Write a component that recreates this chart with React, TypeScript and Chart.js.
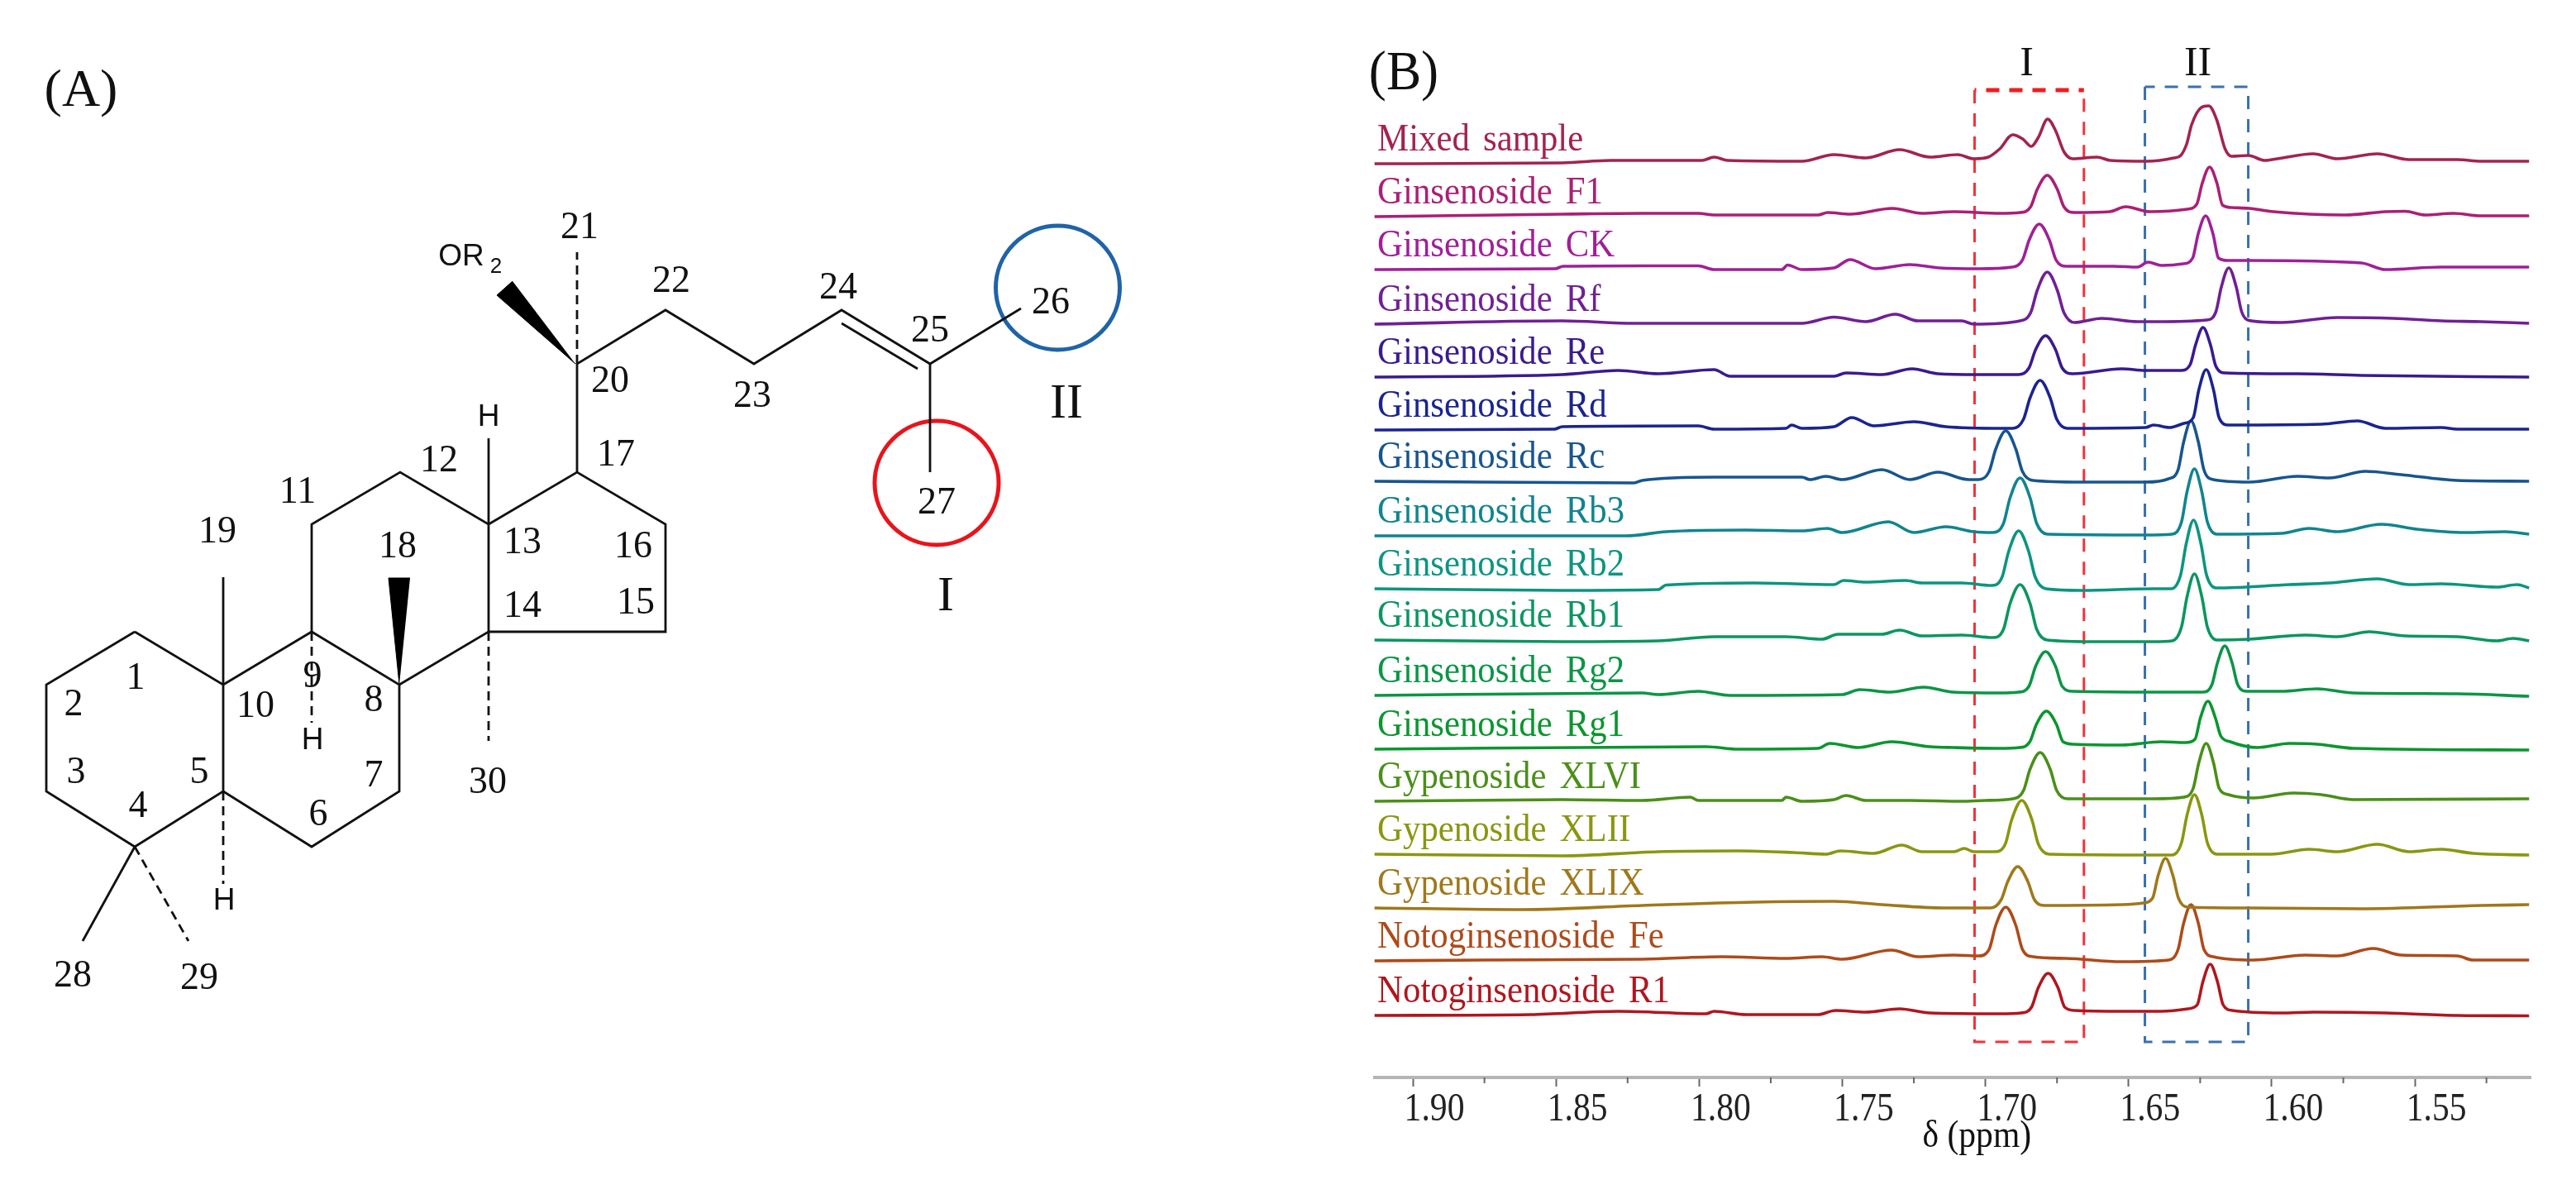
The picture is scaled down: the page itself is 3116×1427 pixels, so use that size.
import React, { useEffect, useRef } from "react";
import { Chart, registerables } from "chart.js";

Chart.register(...registerables);

// ---------- Panel B: stacked 1H NMR spectra ----------
const seriesNames = ["Mixed sample", "Ginsenoside F1", "Ginsenoside CK", "Ginsenoside Rf", "Ginsenoside Re", "Ginsenoside Rd", "Ginsenoside Rc", "Ginsenoside Rb3", "Ginsenoside Rb2", "Ginsenoside Rb1", "Ginsenoside Rg2", "Ginsenoside Rg1", "Gypenoside XLVI", "Gypenoside XLII", "Gypenoside XLIX", "Notoginsenoside Fe", "Notoginsenoside R1"];
const seriesColors = ["#a3234f", "#ab1f75", "#a01f98", "#701f96", "#3a1a90", "#1a2490", "#17558f", "#0f858f", "#0b9580", "#0a9660", "#0a9645", "#0a962e", "#4a8f18", "#8a9610", "#a0781a", "#ae4a1a", "#b0161f"];
const offsets = [1109, 1043, 978, 912, 848, 784, 720, 656, 591, 529, 463, 397, 336, 269, 205, 142, 75];

const mixed = [[1.9134,-4],[1.8478,-3],[1.8310,0],[1.8087,0],[1.7990,0],[1.7948,4],[1.7900,0],[1.7641,-1],[1.7529,7],[1.7418,3],[1.7300,13],[1.7194,4],[1.7097,7],[1.7041,2],[1.6990,4],[1.6950,14],[1.6905,31],[1.6870,26],[1.6840,17],[1.6815,28],[1.6783,50],[1.6755,36],[1.6725,10],[1.6695,2],[1.6610,4],[1.6564,0],[1.6437,-1],[1.6342,3],[1.6318,6],[1.6297,20],[1.6280,43],[1.6246,64],[1.6220,66],[1.6192,49],[1.6163,14],[1.6140,5],[1.6082,6],[1.6024,0],[1.5980,2],[1.5855,8],[1.5771,2],[1.5631,8],[1.5520,1],[1.5352,1],[1.5269,-1],[1.5101,-1]];
const f1 = [[1.9134,-2],[1.8478,1],[1.8199,2],[1.8003,2],[1.7948,0],[1.7585,0],[1.7551,3],[1.7473,1],[1.7325,8],[1.7222,2],[1.7110,4],[1.6950,2],[1.6879,3],[1.6842,10],[1.6819,31],[1.6784,48],[1.6749,31],[1.6726,10],[1.6689,3],[1.6566,4],[1.6510,10],[1.6427,4],[1.6295,7],[1.6262,13],[1.6243,38],[1.6217,58],[1.6191,38],[1.6172,12],[1.6139,9],[1.6078,8],[1.5994,4],[1.5743,0],[1.5603,4],[1.5534,4.5],[1.5464,0],[1.5366,2],[1.5269,-1],[1.5101,-1]];
const ck = [[1.9134,-1],[1.8503,0],[1.8475,3],[1.8199,3.5],[1.8003,3.5],[1.7948,-1],[1.7711,-1],[1.7691,4.5],[1.7641,-1],[1.7529,1],[1.7473,11],[1.7384,0],[1.7264,5],[1.7161,1],[1.7022,0],[1.6907,2],[1.6870,11],[1.6847,35],[1.6812,54],[1.6777,35],[1.6754,11],[1.6717,3],[1.6552,3],[1.6469,2],[1.6432,8],[1.6385,4],[1.6309,6],[1.6276,13],[1.6257,42],[1.6231,64],[1.6205,42],[1.6186,13],[1.6153,10],[1.6078,10],[1.5687,7],[1.5603,-1],[1.5408,2],[1.5101,2]];
const rf = [[1.9134,-1],[1.8478,3],[1.8227,0],[1.7641,0],[1.7529,7.5],[1.7418,2],[1.7315,11],[1.7237,3],[1.7083,3],[1.7041,-1],[1.6879,3],[1.6842,13],[1.6819,40],[1.6784,62],[1.6749,40],[1.6726,13],[1.6689,1],[1.6594,6],[1.6469,2],[1.6400,2],[1.6228,4],[1.6195,14],[1.6176,44],[1.6150,67],[1.6124,44],[1.6105,14],[1.6072,3],[1.5966,1],[1.5771,7],[1.5575,6],[1.5408,3],[1.5269,2],[1.5101,0]];
const re = [[1.9134,-1],[1.8478,2],[1.8283,7],[1.8143,3],[1.7948,8],[1.7892,0],[1.7529,0],[1.7487,4],[1.7362,2],[1.7256,9],[1.7166,3],[1.7027,2],[1.6885,2],[1.6848,10],[1.6825,32],[1.6790,49],[1.6755,32],[1.6732,10],[1.6695,3],[1.6524,9],[1.6441,7],[1.6318,7],[1.6285,14],[1.6266,38],[1.6240,59],[1.6214,38],[1.6195,12],[1.6162,4],[1.5910,3],[1.5687,1],[1.5101,-1]];
const rd = [[1.9134,-1],[1.8506,0],[1.8478,3],[1.8003,4],[1.7948,0],[1.7697,1],[1.7677,5],[1.7641,1],[1.7529,3],[1.7467,14],[1.7389,4],[1.7250,9],[1.7139,3],[1.6943,1],[1.6904,1],[1.6867,12],[1.6844,38],[1.6809,59],[1.6774,38],[1.6751,12],[1.6714,1],[1.6441,2],[1.6413,5],[1.6357,2],[1.6307,7],[1.6274,14],[1.6255,47],[1.6229,72],[1.6203,47],[1.6184,14],[1.6151,5],[1.5827,6],[1.5701,10],[1.5603,1],[1.5408,2],[1.5352,0],[1.5101,0]];
const rc = [[1.9134,1],[1.8757,0],[1.8227,-1],[1.8199,2],[1.7948,6],[1.7641,6],[1.7613,3],[1.7557,7],[1.7501,3],[1.7362,15],[1.7264,3],[1.7166,12],[1.7059,3],[1.7024,3],[1.6987,13],[1.6964,40],[1.6929,62],[1.6894,40],[1.6871,13],[1.6834,2],[1.6664,0],[1.6440,0],[1.6360,4],[1.6327,15],[1.6308,48],[1.6282,74],[1.6256,48],[1.6237,15],[1.6204,3],[1.6078,0],[1.5910,7],[1.5799,5],[1.5673,13],[1.5548,9],[1.5352,2],[1.5101,1]];
const rb3 = [[1.9134,-1],[1.8255,-1],[1.8115,4],[1.7836,6],[1.7641,5],[1.7552,8],[1.7501,3],[1.7339,16],[1.7250,3],[1.7138,10],[1.7041,4],[1.6974,3],[1.6937,14],[1.6914,45],[1.6879,69],[1.6844,45],[1.6821,14],[1.6784,1],[1.6440,0],[1.6348,1],[1.6315,16],[1.6296,52],[1.6270,80],[1.6244,52],[1.6225,16],[1.6192,1],[1.5966,2],[1.5869,8],[1.5771,4],[1.5617,13],[1.5492,7],[1.5325,3],[1.5185,4],[1.5101,1]];
const rb2 = [[1.9134,0],[1.8478,-2],[1.8143,-1],[1.8115,4.5],[1.7808,7],[1.7529,5],[1.7496,10],[1.7418,8],[1.7278,10],[1.7222,7],[1.7083,7],[1.6979,4],[1.6942,14],[1.6919,45],[1.6884,70],[1.6849,45],[1.6826,14],[1.6789,0],[1.6664,-2],[1.6413,0],[1.6351,0],[1.6318,17],[1.6299,54],[1.6273,83],[1.6247,54],[1.6228,17],[1.6195,1],[1.5938,5],[1.5799,7],[1.5631,12],[1.5520,5],[1.5408,6],[1.5213,2],[1.5143,5],[1.5101,1]];
const rb1 = [[1.9134,0],[1.8478,-2],[1.8143,-1],[1.7948,4],[1.7697,4],[1.7571,1],[1.7515,7],[1.7362,7],[1.7300,12],[1.7222,5],[1.7083,6],[1.6974,3],[1.6937,13],[1.6914,44],[1.6879,67],[1.6844,44],[1.6821,13],[1.6784,0],[1.6624,-2],[1.6413,-2],[1.6348,-1],[1.6315,16],[1.6296,52],[1.6270,80],[1.6244,52],[1.6225,16],[1.6192,0],[1.6078,1],[1.5883,6],[1.5771,4],[1.5659,10],[1.5534,5],[1.5352,4],[1.5213,-1],[1.5157,2],[1.5101,-1]];
const rg2 = [[1.9134,-1],[1.8199,2],[1.8143,0],[1.8003,4],[1.7892,-1],[1.7501,0],[1.7439,6],[1.7333,3],[1.7216,9],[1.7113,3],[1.6950,2],[1.6885,3],[1.6848,10],[1.6825,34],[1.6790,52],[1.6755,34],[1.6732,10],[1.6695,4],[1.6400,3],[1.6242,3],[1.6209,12],[1.6190,38],[1.6164,59],[1.6138,38],[1.6119,12],[1.6086,4],[1.5966,4],[1.5841,7],[1.5715,2],[1.5352,1],[1.5101,-2]];
const rg1 = [[1.9134,0],[1.7976,3],[1.7864,0],[1.7585,1],[1.7543,7],[1.7445,2],[1.7328,9],[1.7194,3],[1.7110,2],[1.6950,1],[1.6882,2],[1.6845,9],[1.6822,30],[1.6787,46],[1.6752,30],[1.6729,9],[1.6692,6],[1.6524,5],[1.6385,9],[1.6301,8],[1.6268,12],[1.6249,38],[1.6223,58],[1.6197,38],[1.6178,16],[1.6145,9],[1.6050,2],[1.5938,7],[1.5841,6],[1.5715,1],[1.5101,-1]];
const xlvi = [[1.9134,-2],[1.8478,0],[1.8199,-1],[1.8031,3],[1.8003,-1],[1.7711,-1],[1.7697,3],[1.7641,-2],[1.7529,0],[1.7487,5],[1.7418,-1],[1.7264,-1],[1.7083,-2],[1.7000,-1],[1.6904,1],[1.6867,11],[1.6844,37],[1.6809,57],[1.6774,37],[1.6751,11],[1.6714,1],[1.6413,1],[1.6307,3],[1.6274,14],[1.6255,44],[1.6229,68],[1.6203,44],[1.6184,14],[1.6151,6],[1.6064,2],[1.5924,8],[1.5827,6],[1.5715,0],[1.5101,1]];
const xlii = [[1.9134,1],[1.8478,-1],[1.8143,4],[1.7864,5],[1.7669,3],[1.7557,1],[1.7507,5],[1.7390,2],[1.7292,12],[1.7222,4],[1.7110,4],[1.7074,8],[1.7041,4],[1.6968,4],[1.6931,13],[1.6908,43],[1.6873,66],[1.6838,43],[1.6815,13],[1.6778,1],[1.6413,0],[1.6348,0],[1.6315,15],[1.6296,48],[1.6270,73],[1.6244,48],[1.6225,15],[1.6192,1],[1.6000,1],[1.5869,7],[1.5771,4],[1.5631,13],[1.5520,4],[1.5408,7],[1.5297,2],[1.5101,0]];
const xlix = [[1.9134,0],[1.8617,-2],[1.8199,3],[1.7808,7],[1.7529,8],[1.7362,4],[1.7144,0],[1.6982,0],[1.6945,10],[1.6922,32],[1.6887,50],[1.6852,32],[1.6829,10],[1.6792,3],[1.6524,4],[1.6449,6],[1.6416,12],[1.6397,39],[1.6371,60],[1.6345,39],[1.6326,12],[1.6293,1],[1.6078,0],[1.5687,-1],[1.5269,3],[1.5101,4]];
const fe = [[1.9134,-1],[1.8757,0],[1.8199,1],[1.7920,4],[1.7697,2],[1.7571,4],[1.7501,1],[1.7328,12],[1.7236,4],[1.7110,6],[1.7024,5],[1.6987,13],[1.6964,42],[1.6929,64],[1.6894,42],[1.6871,13],[1.6834,4],[1.6719,2],[1.6524,-2],[1.6360,0],[1.6327,13],[1.6308,44],[1.6282,67],[1.6256,44],[1.6237,13],[1.6204,4],[1.6064,0],[1.5883,6],[1.5771,5],[1.5645,14],[1.5548,6],[1.5352,5],[1.5297,0],[1.5101,0]];
const r1 = [[1.9134,0],[1.8590,1],[1.8283,5],[1.7976,2],[1.7948,5],[1.7836,1],[1.7585,1],[1.7524,6],[1.7418,4],[1.7300,8],[1.7194,3],[1.6950,2],[1.6876,3],[1.6839,10],[1.6816,33],[1.6781,51],[1.6746,33],[1.6723,10],[1.6686,6],[1.6524,5],[1.6385,5],[1.6293,8],[1.6260,13],[1.6241,40],[1.6215,62],[1.6189,40],[1.6170,13],[1.6137,6],[1.5966,3],[1.5855,4],[1.5603,3],[1.5352,0],[1.5101,-0.5]];
const spectra = [mixed, f1, ck, rf, re, rd, rc, rb3, rb2, rb1, rg2, rg1, xlvi, xlii, xlix, fe, r1];

const minorTicks = [1.875, 1.825, 1.775, 1.725, 1.675, 1.625, 1.575, 1.525];
const boxI = [[1.7038,1194],[1.7038,43],[1.6656,43],[1.6656,1194]];
const boxItop = [[1.7038,1194],[1.6656,1194]];
const boxII = [[1.6443,1198],[1.6443,43],[1.6082,43],[1.6082,1198],[1.6443,1198]];

// ---------- Panel A: triterpene skeleton ----------
const solidBonds = [
  [[163,764],[56,828],[56,957],[163,1024],[270,957],[270,828],[163,764]],
  [[270,828],[377,764],[483,828],[483,957],[377,1024],[270,957]],
  [[377,764],[377,634],[484,571],[591,634],[591,764],[483,828]],
  [[591,634],[698,571],[805,634],[805,764],[591,764]],
  [[698,571],[698,440],[805,375],[912,440],[1018,375],[1125,440],[1235,373]],
  [[1125,440],[1125,571]],
  [[1018,391],[1110,446]],
  [[270,828],[270,698]],
  [[591,634],[591,530]],
  [[163,1024],[100,1138]],
];
const dashedBonds = [
  [[163,1024],[228,1138]],
  [[377,764],[377,874]],
  [[270,957],[270,1069]],
  [[591,764],[591,896]],
  [[698,440],[698,305]],
];
const wedges = [
  [[483,828],[470,699],[496,699]],
  [[696,440],[601,357],[620,340]],
];
const circleI = [[1133,584]];
const circleII = [[1279.5,348]];
const numberLabels = [["1",164,821],["2",89,853],["3",92,935],["4",167,976],["5",241,935],["6",385,986],["7",452,939],["8",452,848],["9",378,819],["10",309,855],["11",360,596],["12",531,558],["13",632,657],["14",632,734],["15",769,730],["16",766,662],["17",745,551],["18",481,662],["19",263,644],["20",738,462],["21",701,276],["22",812,341],["23",910,480],["24",1014,349],["25",1125,401],["26",1271,367],["27",1133,609],["28",88,1181],["29",241,1184],["30",590,947]];
const hLabels = [["H",271,1090],["H",378,896],["H",591,505],["OR",558,311]];
const subLabels = [["2",600,323]];
const romanLabels = [["I",1144,722],["II",1290,489]];
const panelLabelA = ["(A)", 98, 111];

const xy = (pts: number[][]) => pts.map(([x, y]) => ({ x, y }));

const structureText = {
  id: "structureText",
  afterDatasetsDraw(chart: any) {
    const { ctx, scales } = chart;
    const put = (items: any[], font: string) => {
      ctx.font = font;
      for (const [t, x, y] of items) ctx.fillText(t, scales.x.getPixelForValue(x), scales.y.getPixelForValue(y));
    };
    ctx.save();
    ctx.fillStyle = "#111";
    ctx.textAlign = "center";
    ctx.textBaseline = "middle";
    put(numberLabels, "46px 'Liberation Serif'");
    put(hLabels, "37px 'Liberation Sans'");
    put(subLabels, "26px 'Liberation Sans'");
    put(romanLabels, "60px 'Liberation Serif'");
    put([panelLabelA], "64px 'Liberation Serif'");
    ctx.restore();
  },
};

const squeezed = (ctx: any, text: string, x: number, y: number, sx: number) => {
  ctx.save();
  ctx.translate(x, y);
  ctx.scale(sx, 1);
  ctx.fillText(text, 0, 0);
  ctx.restore();
};

const spectraText = {
  id: "spectraText",
  afterDatasetsDraw(chart: any) {
    const { ctx, scales } = chart;
    const x = scales.x;
    ctx.save();
    ctx.textBaseline = "alphabetic";
    ctx.textAlign = "left";
    ctx.font = "46.5px 'Liberation Serif'";
    (ctx as any).wordSpacing = "6px";
    seriesNames.forEach((name, i) => {
      ctx.fillStyle = seriesColors[i];
      squeezed(ctx, name, x.getPixelForValue(1.9124), scales.y.getPixelForValue(offsets[i] + spectra[i][0][1] + 16.5), 0.92);
    });
    (ctx as any).wordSpacing = "0px";
    ctx.fillStyle = "#111";
    ctx.textAlign = "center";
    ctx.font = "68px 'Liberation Serif'";
    squeezed(ctx, "(B)", x.getPixelForValue(1.9032), scales.y.getPixelForValue(1195), 0.93);
    ctx.font = "50px 'Liberation Serif'";
    ctx.fillText("I", x.getPixelForValue(1.6856), scales.y.getPixelForValue(1212));
    ctx.fillText("II", x.getPixelForValue(1.6258), scales.y.getPixelForValue(1212));
    ctx.font = "47px 'Liberation Serif'";
    squeezed(ctx, "δ (ppm)", x.getPixelForValue(1.7030), x.top + 84, 0.885);
    ctx.font = "49px 'Liberation Serif'";
    ctx.fillStyle = "#222";
    for (const t of x.ticks) squeezed(ctx, Number(t.value).toFixed(2), x.getPixelForValue(t.value) + 26, x.top + 52, 0.85);
    ctx.strokeStyle = "#666";
    ctx.lineWidth = 2;
    for (const v of minorTicks) {
      const p = x.getPixelForValue(v);
      ctx.beginPath();
      ctx.moveTo(p, x.top);
      ctx.lineTo(p, x.top + 7);
      ctx.stroke();
    }
    ctx.restore();
  },
};

export default function App() {
  const leftRef = useRef<HTMLCanvasElement>(null);
  const rightRef = useRef<HTMLCanvasElement>(null);

  useEffect(() => {
    const structureSets: any[] = [
      ...solidBonds.map((b) => ({ data: xy(b), showLine: true, borderColor: "#111", borderWidth: 2.8, pointRadius: 0, tension: 0, clip: false })),
      ...dashedBonds.map((b) => ({ data: xy(b), showLine: true, borderColor: "#111", borderWidth: 2.8, borderDash: [11, 7], pointRadius: 0, tension: 0, clip: false })),
      ...wedges.map((w) => ({ data: xy(w), showLine: true, borderColor: "#000", backgroundColor: "#000", borderWidth: 1, fill: "shape", pointRadius: 0, tension: 0, clip: false })),
      { data: xy(circleI), pointRadius: 75, pointBorderWidth: 5, pointBorderColor: "#e8141c", pointBackgroundColor: "rgba(0,0,0,0)", clip: false },
      { data: xy(circleII), pointRadius: 75, pointBorderWidth: 5, pointBorderColor: "#1f63a8", pointBackgroundColor: "rgba(0,0,0,0)", clip: false },
    ];
    const left = new Chart(leftRef.current!, {
      type: "scatter",
      data: { datasets: structureSets },
      options: {
        animation: false,
        responsive: false,
        devicePixelRatio: 1,
        layout: { padding: 0, autoPadding: false },
        plugins: { legend: { display: false }, tooltip: { enabled: false } },
        scales: {
          x: { type: "linear", display: false, min: 0, max: 1600 },
          y: { type: "linear", display: false, min: 0, max: 1427, reverse: true },
        },
      },
      plugins: [structureText],
    } as any);

    const lines: any[] = spectra.map((s, i) => ({
      label: seriesNames[i],
      data: s.map(([x, y]) => ({ x, y: y + offsets[i] })),
      borderColor: seriesColors[i],
      borderWidth: 3.6,
      pointRadius: 0,
      cubicInterpolationMode: "monotone",
      clip: false,
    }));
    const boxes: any[] = [
      { data: xy(boxI), borderColor: "#f2333a", borderWidth: 3, borderDash: [16, 12], pointRadius: 0, tension: 0 },
      { data: xy(boxItop), borderColor: "#f01c20", borderWidth: 5, borderDash: [16, 12], borderDashOffset: -14, pointRadius: 0, tension: 0 },
      { data: xy(boxII), borderColor: "#3a70b0", borderWidth: 3, borderDash: [16, 12], pointRadius: 0, tension: 0 },
    ];
    const right = new Chart(rightRef.current!, {
      type: "line",
      data: { datasets: [...lines, ...boxes] },
      options: {
        animation: false,
        responsive: false,
        devicePixelRatio: 1,
        layout: { padding: { left: 63, right: 55, top: 0, bottom: 0 }, autoPadding: false },
        plugins: { legend: { display: false }, tooltip: { enabled: false } },
        scales: {
          x: {
            type: "linear",
            reverse: true,
            min: 1.5096,
            max: 1.9133,
            afterFit(scale: any) { scale.height = 124; },
            border: { color: "#b5b5b5", width: 4 },
            grid: { drawOnChartArea: false, drawTicks: true, tickLength: 11, tickColor: "#666", tickWidth: 2 },
            ticks: { stepSize: 0.05, includeBounds: false, autoSkip: false, maxRotation: 0, color: "rgba(0,0,0,0)", font: { family: "'Liberation Serif'", size: 20 } },
          },
          y: { type: "linear", display: false, min: 0, max: 1303 },
        },
      },
      plugins: [spectraText],
    } as any);
    return () => { left.destroy(); right.destroy(); };
  }, []);

  const blur = { filter: "blur(0.6px)" };
  return (
    <div style={{ position: "absolute", left: 0, top: 0, width: 3116, height: 1427, background: "#fff", overflow: "hidden" }}>
      <canvas ref={leftRef} width={1600} height={1427} style={{ position: "absolute", left: 0, top: 0, ...blur }} />
      <canvas ref={rightRef} width={1516} height={1427} style={{ position: "absolute", left: 1600, top: 0, ...blur }} />
    </div>
  );
}
